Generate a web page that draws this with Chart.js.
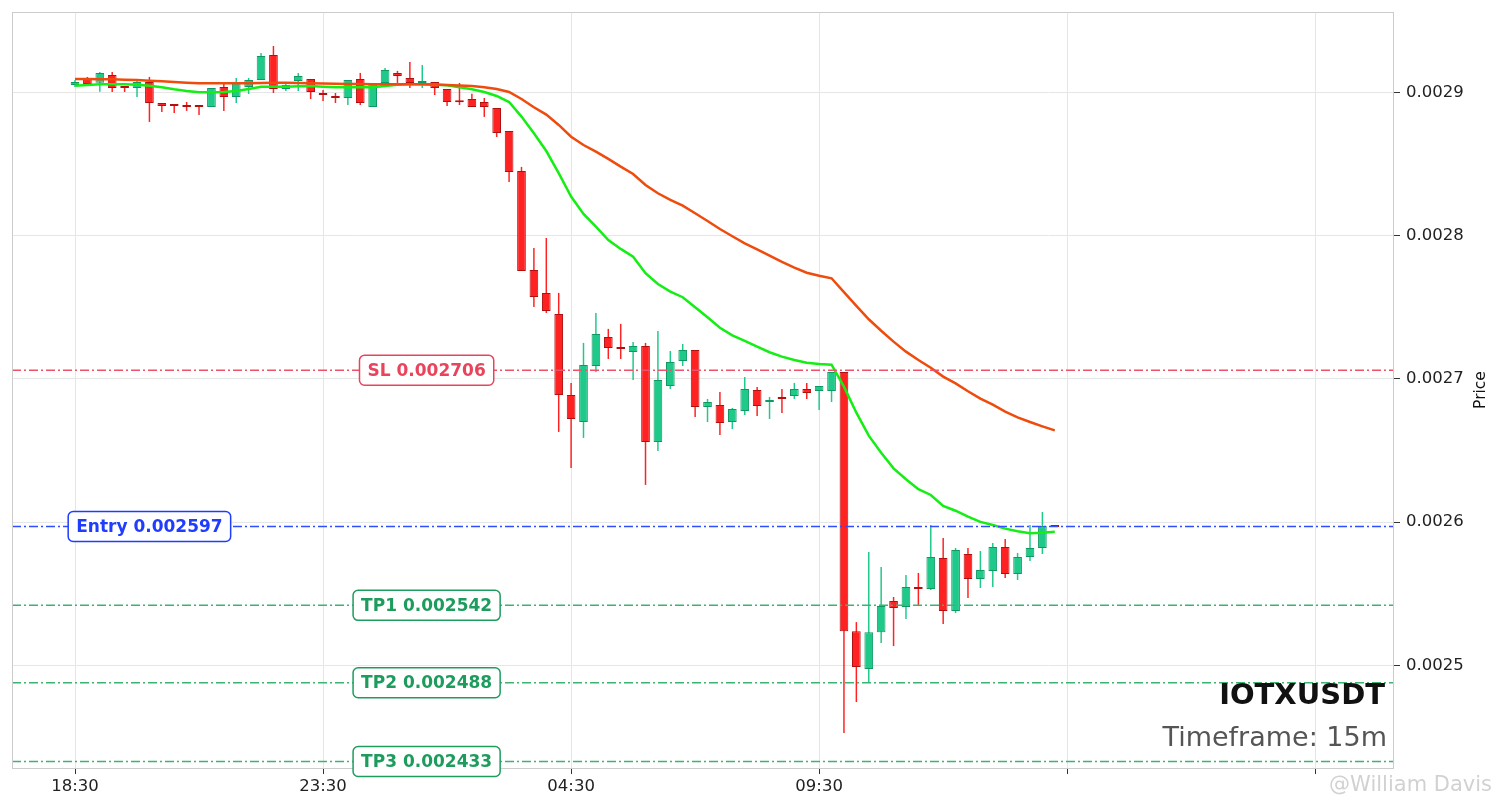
<!DOCTYPE html>
<html>
<head>
<meta charset="utf-8">
<title>IOTXUSDT 15m</title>
<script src="https://cdn.jsdelivr.net/npm/chart.js@4.4.1/dist/chart.umd.min.js"></script>
<style>
  html, body { margin: 0; padding: 0; background: #fff; }
  #wrap { width: 1501px; height: 808px; }
</style>
</head>
<body>
<div id="wrap"><canvas id="chart" width="1501" height="808"></canvas></div>
<script>
// 15m candles starting at 18:30, one per index
const opens = [
  0.0029051, 0.0029093, 0.0029067, 0.0029121, 0.0029031, 0.0029030, 0.0029072, 0.0028925, 0.0028911, 0.0028911,
  0.0028904, 0.0028897, 0.0029037, 0.0028967, 0.0029037, 0.0029086, 0.0029260, 0.0029023, 0.0029079, 0.0029093,
  0.0028982, 0.0028974, 0.0028960, 0.0029093, 0.0028897, 0.0029065, 0.0029135, 0.0029100, 0.0029065, 0.0029072,
  0.0029023, 0.0028933, 0.0028953, 0.0028932, 0.0028890, 0.0028730, 0.0028451, 0.0027760, 0.0027600, 0.0027453,
  0.0026888, 0.0026699, 0.0027090, 0.0027293, 0.0027210, 0.0027188, 0.0027230, 0.0026560, 0.0026951, 0.0027125,
  0.0027202, 0.0026804, 0.0026818, 0.0026699, 0.0026776, 0.0026923, 0.0026839, 0.0026867, 0.0026881, 0.0026930,
  0.0026916, 0.0026916, 0.0027048, 0.0025240, 0.0024976, 0.0025233, 0.0025450, 0.0025408, 0.0025548, 0.0025534,
  0.0025750, 0.0025380, 0.0025778, 0.0025604, 0.0025660, 0.0025827, 0.0025639, 0.0025757, 0.0025820, 0.0025981
];
const highs = [
  0.0029086, 0.0029107, 0.0029142, 0.0029142, 0.0029044, 0.0029086, 0.0029107, 0.0028925, 0.0028911, 0.0028932,
  0.0028904, 0.0029030, 0.0029065, 0.0029100, 0.0029100, 0.0029274, 0.0029323, 0.0029065, 0.0029135, 0.0029093,
  0.0029016, 0.0028995, 0.0029086, 0.0029135, 0.0029065, 0.0029170, 0.0029149, 0.0029211, 0.0029190, 0.0029072,
  0.0029023, 0.0029065, 0.0028990, 0.0028960, 0.0028890, 0.0028730, 0.0028479, 0.0027914, 0.0027983, 0.0027600,
  0.0026972, 0.0027251, 0.0027460, 0.0027349, 0.0027384, 0.0027258, 0.0027251, 0.0027335, 0.0027195, 0.0027244,
  0.0027202, 0.0026860, 0.0026909, 0.0026797, 0.0027013, 0.0026944, 0.0026874, 0.0026930, 0.0026972, 0.0026972,
  0.0026951, 0.0027048, 0.0027048, 0.0025303, 0.0025792, 0.0025687, 0.0025478, 0.0025632, 0.0025646, 0.0025981,
  0.0025890, 0.0025820, 0.0025820, 0.0025799, 0.0025855, 0.0025883, 0.0025785, 0.0025981, 0.0026071, 0.0025981
];
const lows = [
  0.0029037, 0.0029051, 0.0029004, 0.0029002, 0.0029002, 0.0028967, 0.0028793, 0.0028863, 0.0028856, 0.0028870,
  0.0028842, 0.0028897, 0.0028870, 0.0028925, 0.0028988, 0.0029086, 0.0028995, 0.0029009, 0.0029009, 0.0028953,
  0.0028939, 0.0028925, 0.0028911, 0.0028911, 0.0028897, 0.0029065, 0.0029065, 0.0029030, 0.0029030, 0.0028981,
  0.0028904, 0.0028911, 0.0028897, 0.0028828, 0.0028688, 0.0028374, 0.0027753, 0.0027502, 0.0027460, 0.0026630,
  0.0026379, 0.0026588, 0.0027048, 0.0027139, 0.0027139, 0.0026992, 0.0026260, 0.0026497, 0.0026930, 0.0027090,
  0.0026734, 0.0026699, 0.0026609, 0.0026650, 0.0026748, 0.0026741, 0.0026720, 0.0026762, 0.0026860, 0.0026860,
  0.0026783, 0.0026839, 0.0024529, 0.0024745, 0.0024878, 0.0025157, 0.0025136, 0.0025324, 0.0025415, 0.0025527,
  0.0025289, 0.0025366, 0.0025471, 0.0025541, 0.0025548, 0.0025611, 0.0025597, 0.0025729, 0.0025778, 0.0025967
];
const closes = [
  0.0029072, 0.0029058, 0.0029135, 0.0029030, 0.0029029, 0.0029072, 0.0028925, 0.0028904, 0.0028904, 0.0028897,
  0.0028897, 0.0029030, 0.0028967, 0.0029065, 0.0029086, 0.0029253, 0.0029023, 0.0029051, 0.0029114, 0.0029002,
  0.0028980, 0.0028960, 0.0029086, 0.0028925, 0.0029065, 0.0029156, 0.0029114, 0.0029065, 0.0029072, 0.0029030,
  0.0028932, 0.0028931, 0.0028897, 0.0028897, 0.0028716, 0.0028444, 0.0027753, 0.0027572, 0.0027474, 0.0026888,
  0.0026720, 0.0027097, 0.0027314, 0.0027216, 0.0027208, 0.0027230, 0.0026560, 0.0026992, 0.0027118, 0.0027202,
  0.0026804, 0.0026839, 0.0026692, 0.0026790, 0.0026930, 0.0026811, 0.0026853, 0.0026860, 0.0026930, 0.0026902,
  0.0026951, 0.0027048, 0.0025240, 0.0024990, 0.0025233, 0.0025415, 0.0025401, 0.0025548, 0.0025534, 0.0025757,
  0.0025380, 0.0025806, 0.0025604, 0.0025667, 0.0025827, 0.0025639, 0.0025757, 0.0025820, 0.0025974, 0.0025967
];

// moving averages (green = fast, orange = slow)
const emaFast = [
  0.0029046, 0.0029051, 0.0029056, 0.0029056, 0.0029056, 0.0029053, 0.0029046, 0.0029035, 0.0029021, 0.0029009,
  0.0029000, 0.0029000, 0.0029002, 0.0029009, 0.0029023, 0.0029039, 0.0029039, 0.0029039, 0.0029042, 0.0029044,
  0.0029039, 0.0029035, 0.0029035, 0.0029035, 0.0029035, 0.0029044, 0.0029053, 0.0029056, 0.0029056, 0.0029053,
  0.0029049, 0.0029035, 0.0029021, 0.0029002, 0.0028974, 0.0028932, 0.0028830, 0.0028714, 0.0028590, 0.0028435,
  0.0028272, 0.0028151, 0.0028062, 0.0027969, 0.0027907, 0.0027853, 0.0027737, 0.0027662, 0.0027609, 0.0027570,
  0.0027500, 0.0027430, 0.0027357, 0.0027304, 0.0027265, 0.0027225, 0.0027186, 0.0027155, 0.0027132, 0.0027113,
  0.0027104, 0.0027099, 0.0026946, 0.0026764, 0.0026604, 0.0026485, 0.0026376, 0.0026300, 0.0026230, 0.0026190,
  0.0026113, 0.0026080, 0.0026039, 0.0026002, 0.0025981, 0.0025955, 0.0025937, 0.0025923, 0.0025927, 0.0025934
];
const emaSlow = [
  0.0029093, 0.0029093, 0.0029091, 0.0029091, 0.0029088, 0.0029086, 0.0029081, 0.0029077, 0.0029072, 0.0029067,
  0.0029063, 0.0029063, 0.0029063, 0.0029063, 0.0029063, 0.0029065, 0.0029067, 0.0029067, 0.0029065, 0.0029063,
  0.0029061, 0.0029059, 0.0029058, 0.0029057, 0.0029056, 0.0029056, 0.0029056, 0.0029056, 0.0029056, 0.0029054,
  0.0029051, 0.0029047, 0.0029043, 0.0029035, 0.0029023, 0.0029002, 0.0028953, 0.0028895, 0.0028844, 0.0028772,
  0.0028690, 0.0028632, 0.0028586, 0.0028535, 0.0028481, 0.0028430, 0.0028353, 0.0028295, 0.0028249, 0.0028209,
  0.0028156, 0.0028102, 0.0028046, 0.0027995, 0.0027946, 0.0027904, 0.0027860, 0.0027816, 0.0027776, 0.0027741,
  0.0027720, 0.0027702, 0.0027606, 0.0027509, 0.0027416, 0.0027336, 0.0027260, 0.0027190, 0.0027132, 0.0027078,
  0.0027016, 0.0026969, 0.0026914, 0.0026862, 0.0026820, 0.0026771, 0.0026732, 0.0026699, 0.0026669, 0.0026641
];

// trade levels
const levelNames = ['SL', 'Entry', 'TP1', 'TP2', 'TP3'];
const levelPrices = [0.002706, 0.002597, 0.002542, 0.002488, 0.002433];

// axes
const tickIndex = [0, 20, 40, 60, 80, 100];
const tickLabels = ['18:30', '23:30', '04:30', '09:30', '', ''];
const priceTicks = [0.0025, 0.0026, 0.0027, 0.0028, 0.0029];

const symbol = 'IOTXUSDT';
const timeframe = '15m';

// view window
const xMin = -5.08, xMax = 106.35;
const yMin = 0.0024285, yMax = 0.0029560;

const RED = '#ff2222', RED_EDGE = '#b01010';
const GREEN = '#1fc98a', GREEN_EDGE = '#0f9962';
const levelColors = {
  SL:    { line: '#f0506a', text: '#e8445c' },
  Entry: { line: '#2f4fff', text: '#1f3cff' },
  TP:    { line: '#3cb371', text: '#1e9c5e' }
};
function levelColor(name) {
  return name.startsWith('TP') ? levelColors.TP : levelColors[name];
}
// where each tag box sits along the x axis (candle index)
const tagAt = { SL: 28.35, Entry: 6, TP1: 28.35, TP2: 28.35, TP3: 28.35 };

Chart.defaults.font.family = "'DejaVu Sans', sans-serif";

const up = opens.map((o, i) => closes[i] >= o);

const wickData = opens.map((o, i) => ({ x: i, y: [lows[i], highs[i]] }));
const bodyData = opens.map((o, i) => ({ x: i, y: [Math.min(o, closes[i]), Math.max(o, closes[i])] }));

const levelSets = levelNames.map((name, k) => ({
  type: 'line',
  data: [{ x: xMin, y: levelPrices[k] }, { x: xMax, y: levelPrices[k] }],
  borderColor: levelColor(name).line,
  borderWidth: 1.5,
  borderDash: [9, 3, 2, 3],
  pointRadius: 0,
  order: 1
}));

const overlay = {
  id: 'overlay',
  afterDatasetsDraw(chart) {
    const { ctx, chartArea: a, scales: { x, y } } = chart;
    ctx.save();

    // frame round the plot
    ctx.strokeStyle = '#cccccc';
    ctx.lineWidth = 1;
    ctx.strokeRect(a.left + 0.5, a.top + 0.5, a.right - a.left - 1, a.bottom - a.top);

    // level tags
    ctx.font = 'bold 17px "DejaVu Sans"';
    ctx.textAlign = 'center';
    ctx.textBaseline = 'middle';
    levelNames.forEach((name, k) => {
      const txt = name + ' ' + levelPrices[k].toFixed(6);
      const cx = x.getPixelForValue(tagAt[name]);
      const cy = y.getPixelForValue(levelPrices[k]);
      const w = ctx.measureText(txt).width + 16;
      const h = 30;
      const col = levelColor(name).text;
      ctx.beginPath();
      ctx.roundRect(cx - w / 2, cy - h / 2, w, h, 5);
      ctx.fillStyle = '#ffffff';
      ctx.fill();
      ctx.lineWidth = 1.5;
      ctx.strokeStyle = col;
      ctx.stroke();
      ctx.fillStyle = col;
      ctx.fillText(txt, cx, cy + 1);
    });

    // symbol and timeframe, bottom right of the plot
    ctx.textAlign = 'right';
    ctx.textBaseline = 'alphabetic';
    ctx.fillStyle = '#111111';
    ctx.font = 'bold 29px "DejaVu Sans"';
    ctx.fillText(symbol, a.right - 9, 704);
    ctx.fillStyle = '#555555';
    ctx.font = '27px "DejaVu Sans"';
    ctx.fillText('Timeframe: ' + timeframe, a.right - 7, 746);

    // y axis title, reading upwards
    ctx.save();
    ctx.translate(1481, (a.top + a.bottom) / 2);
    ctx.rotate(-Math.PI / 2);
    ctx.textAlign = 'center';
    ctx.textBaseline = 'middle';
    ctx.fillStyle = '#111111';
    ctx.font = '15.5px "DejaVu Sans"';
    ctx.fillText('Price', 0, 0);
    ctx.restore();

    // faint watermark
    ctx.textAlign = 'right';
    ctx.fillStyle = 'rgba(140,140,140,0.4)';
    ctx.font = '21px "DejaVu Sans"';
    ctx.fillText('@William Davis', 1492, 791);

    ctx.restore();
  }
};

new Chart(document.getElementById('chart'), {
  type: 'bar',
  data: {
    datasets: [
      {
        label: 'wicks',
        data: wickData,
        backgroundColor: up.map(u => u ? GREEN : RED),
        borderWidth: 0,
        grouped: false,
        categoryPercentage: 1,
        barPercentage: 0.12,
        order: 5
      },
      {
        label: 'bodies',
        data: bodyData,
        backgroundColor: up.map(u => u ? GREEN : RED),
        borderColor: up.map(u => u ? GREEN_EDGE : RED_EDGE),
        borderWidth: 1,
        borderSkipped: false,
        minBarLength: 2,
        grouped: false,
        categoryPercentage: 1,
        barPercentage: 0.7,
        order: 4
      },
      {
        type: 'line',
        label: 'EMA slow',
        data: emaSlow.map((v, i) => ({ x: i, y: v })),
        borderColor: '#ef4b0c',
        borderWidth: 2.5,
        pointRadius: 0,
        tension: 0,
        order: 2
      },
      {
        type: 'line',
        label: 'EMA fast',
        data: emaFast.map((v, i) => ({ x: i, y: v })),
        borderColor: '#14ee14',
        borderWidth: 2.5,
        pointRadius: 0,
        tension: 0,
        order: 2
      },
      ...levelSets
    ]
  },
  options: {
    responsive: false,
    animation: false,
    devicePixelRatio: 1,
    layout: { padding: { left: 12, top: 12, right: 0, bottom: 0 } },
    plugins: {
      legend: { display: false },
      tooltip: { enabled: false }
    },
    scales: {
      x: {
        type: 'linear',
        min: xMin,
        max: xMax,
        offset: false,
        afterBuildTicks: s => { s.ticks = tickIndex.map(v => ({ value: v })); },
        afterFit: s => { s.height = 40; s.paddingLeft = 0; s.paddingRight = 0; },
        grid: { offset: false, color: '#e6e6e6', lineWidth: 1, tickColor: '#333333', tickLength: 6 },
        border: { display: false },
        ticks: {
          autoSkip: false,
          maxRotation: 0,
          padding: 3,
          color: '#222222',
          font: { size: 16.5 },
          callback: (v, i) => tickLabels[i]
        }
      },
      y: {
        position: 'right',
        min: yMin,
        max: yMax,
        beginAtZero: false,
        afterBuildTicks: s => { s.ticks = priceTicks.map(v => ({ value: v })); },
        afterFit: s => { s.width = 107; s.paddingTop = 0; s.paddingBottom = 0; },
        grid: { color: '#e6e6e6', lineWidth: 1, tickColor: '#333333', tickLength: 6 },
        border: { display: false },
        ticks: {
          padding: 6,
          color: '#222222',
          font: { size: 16.5 },
          callback: v => v.toFixed(4)
        }
      }
    }
  },
  plugins: [overlay]
});
</script>
</body>
</html>
